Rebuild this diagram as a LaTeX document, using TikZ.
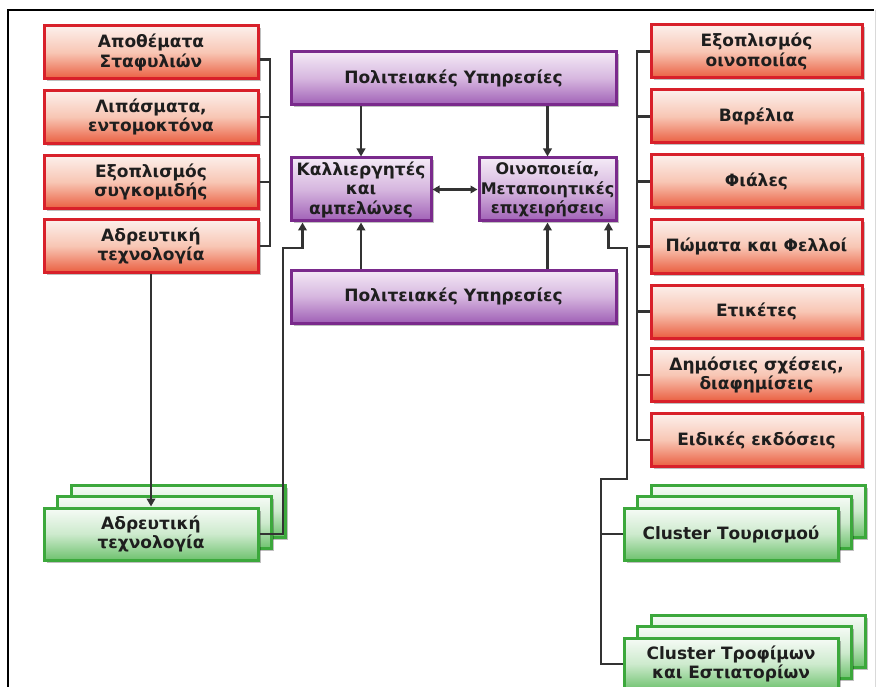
\documentclass[tikz,border=0pt]{standalone}
\usepackage{fontspec}
\setmainfont{DejaVu Sans}
\usetikzlibrary{arrows.meta,shadows,calc}

\definecolor{redline}{HTML}{D8202A}
\definecolor{redtop}{HTML}{FCF0EC}
\definecolor{redmid}{HTML}{F8C6B4}
\definecolor{redbot}{HTML}{EA5E40}
\definecolor{purpline}{HTML}{7A2A8C}
\definecolor{purptop}{HTML}{F4EAF6}
\definecolor{purpmid}{HTML}{D6B6DF}
\definecolor{purpbot}{HTML}{A060B6}
\definecolor{grnline}{HTML}{3CA83C}
\definecolor{grntop}{HTML}{F6FBF6}
\definecolor{grnmid}{HTML}{CDEACD}
\definecolor{grnbot}{HTML}{6EC26E}
\definecolor{wire}{HTML}{333333}
\definecolor{ink}{HTML}{1E1E1E}

% vertical gradients: 25bp = bottom edge, 75bp = top edge
\pgfdeclareverticalshading{redgrad}{100bp}{color(0bp)=(redbot); color(25bp)=(redbot); color(50bp)=(redmid); color(75bp)=(redtop); color(100bp)=(redtop)}
\pgfdeclareverticalshading{purpgrad}{100bp}{color(0bp)=(purpbot); color(25bp)=(purpbot); color(50bp)=(purpmid); color(75bp)=(purptop); color(100bp)=(purptop)}
\pgfdeclareverticalshading{grngrad}{100bp}{color(0bp)=(grnbot); color(25bp)=(grnbot); color(50bp)=(grnmid); color(75bp)=(grntop); color(100bp)=(grntop)}

\tikzset{
  box/.style={rectangle, line width=3pt, align=center, text=ink,
    font=\fontsize{17}{19.5}\selectfont\bfseries, inner sep=1pt,
    drop shadow={shadow xshift=2.5pt, shadow yshift=-2.5pt, opacity=0.25, fill=black}},
  redbox/.style={box, draw=redline, shading=redgrad, minimum width=214pt, minimum height=53pt},
  purpbox/.style={box, draw=purpline, shading=purpgrad, minimum height=53pt},
  grnbox/.style={box, draw=grnline, shading=grngrad, minimum width=214pt, minimum height=52pt},
  conn/.style={draw=wire, line width=2.2pt},
  arr/.style={conn, -{Triangle[length=8pt,width=8.5pt]}},
  darr/.style={conn, {Triangle[length=7pt,width=7.5pt]}-{Triangle[length=7pt,width=7.5pt]}},
}

\begin{document}
\begin{tikzpicture}[x=1pt,y=-1pt]
\useasboundingbox (0,0) rectangle (878,687);
\clip (0,0) rectangle (878,687);
\fill[white] (0,0) rectangle (878,687);

% frame
\draw[black, line width=1.8pt] (8,687) -- (8,10) -- (874,10);
\draw[black!15, line width=0.8pt] (875,10) -- (875,687);

% left supplier column
\node[redbox] (L1) at (151,52.5) {Αποθέματα\\Σταφυλιών};
\node[redbox] (L2) at (151,117) {Λιπάσματα,\\εντομοκτόνα};
\node[redbox] (L3) at (151,182) {Εξοπλισμός\\συγκομιδής};
\node[redbox] (L4) at (151,246) {Αδρευτική\\τεχνολογία};

% central core
\node[purpbox, minimum width=325pt] (P1) at (453.5,78.5) {Πολιτειακές Υπηρεσίες};
\node[purpbox, minimum width=140pt, minimum height=63pt] (K) at (361,189.5) {Καλλιεργητές\\και\\αμπελώνες};
\node[purpbox, minimum width=137pt, minimum height=63pt,
      font=\fontsize{16}{19.5}\selectfont\bfseries] (O) at (547.5,189.5) {Οινοποιεία,\\Μεταποιητικές\\επιχειρήσεις};
\node[purpbox, minimum width=325pt] (P2) at (453.5,296.5) {Πολιτειακές Υπηρεσίες};

% right supplier column
\node[redbox, minimum width=211pt] (R1) at (756.5,51.5) {Εξοπλισμός\\οινοποιίας};
\node[redbox, minimum width=211pt] (R2) at (756.5,116.5) {Βαρέλια};
\node[redbox, minimum width=211pt] (R3) at (756.5,181.5) {Φιάλες};
\node[redbox, minimum width=211pt] (R4) at (756.5,246.5) {Πώματα και Φελλοί};
\node[redbox, minimum width=211pt] (R5) at (756.5,311.5) {Ετικέτες};
\node[redbox, minimum width=211pt] (R6) at (756.5,375) {Δημόσιες σχέσεις,\\διαφημίσεις};
\node[redbox, minimum width=211pt] (R7) at (756.5,440) {Ειδικές εκδόσεις};

% stacked clusters (back sheets first)
\node[grnbox] (G1c) at (178,511) {};
\node[grnbox] (G1b) at (164.5,522.5) {};
\node[grnbox] (G1a) at (151,534) {Αδρευτική\\τεχνολογία};

\node[grnbox] (T1c) at (758,511) {};
\node[grnbox] (T1b) at (744.5,522.5) {};
\node[grnbox] (T1a) at (731,534) {Cluster Τουρισμού};

\node[grnbox] (T2c) at (758,641) {};
\node[grnbox] (T2b) at (744.5,652.5) {};
\node[grnbox] (T2a) at (731,664) {Cluster Τροφίμων\\και Εστιατορίων};

% junction points
\coordinate (lbar) at (270,0);
\coordinate (rbar) at (637,0);
\coordinate (lj) at (283,248);
\coordinate (rj1) at (627,248);
\coordinate (rj2) at (601,479);

% left bracket
\draw[conn] ([yshift=-7pt]L1.east) -| (lbar |- L4.east) -- (L4.east);
\draw[conn] (L2.east) -- (lbar |- L2.east);
\draw[conn] (L3.east) -- (lbar |- L3.east);

% right bracket
\draw[conn] (R1.west) -| (rbar |- R7.west) -- (R7.west);
\foreach \n in {R2,R3,R4,R5,R6}
  \draw[conn] (\n.west) -- (rbar |- \n.west);

% state services to core actors
\draw[arr] (P1.south -| K.north) -- (K.north);
\draw[arr] (P1.south -| O.north) -- (O.north);
\draw[arr] (P2.north -| K.south) -- (K.south);
\draw[arr] (P2.north -| O.south) -- (O.south);
\draw[darr] (K.east) -- (O.west);

% irrigation technology
\draw[arr] (L4.south) -- (G1a.north);
\draw[arr] (G1a.east) -| (lj) -| ([xshift=13pt]K.south west);

% tourism and food clusters
\draw[arr] (T2a.west) -| (rj2) -| (rj1) -| ([xshift=-9pt]O.south east);
\draw[conn] (T1a.west) -- (rj2 |- T1a.west);
\end{tikzpicture}
\end{document}
